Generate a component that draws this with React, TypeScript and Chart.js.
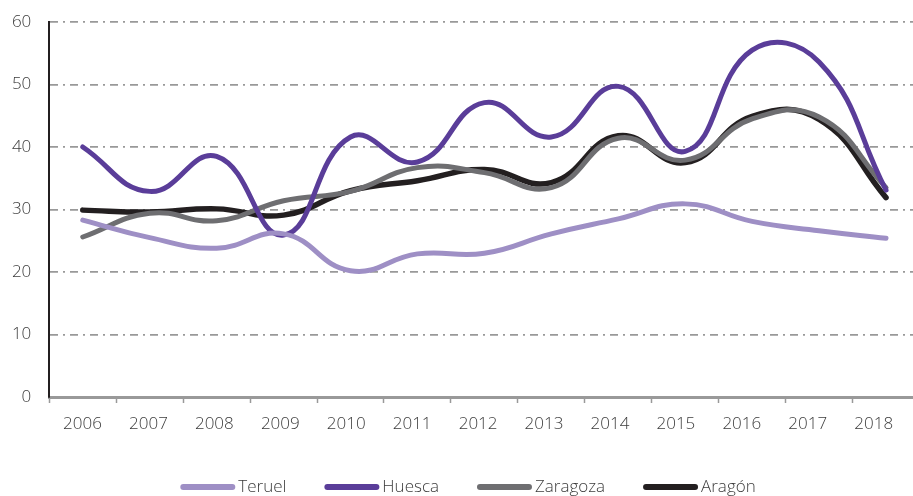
import React, { useEffect, useRef } from "react";
import { Chart, registerables } from "chart.js";

Chart.register(...registerables);

const years = ["2006", "2007", "2008", "2009", "2010", "2011", "2012", "2013", "2014", "2015", "2016", "2017", "2018"];
const teruel = [28.3, 25.5, 23.8, 26.1, 20.2, 22.9, 23.0, 26.1, 28.5, 30.9, 28.1, 26.6, 25.4];
const huesca = [40.0, 32.9, 38.5, 25.9, 41.6, 37.6, 47.1, 41.6, 49.7, 39.3, 55.5, 53.6, 33.1];
const zaragoza = [25.6, 29.4, 28.2, 31.4, 32.9, 36.7, 35.9, 33.5, 41.4, 37.9, 44.5, 44.8, 33.5];
const aragon = [29.9, 29.6, 30.1, 29.1, 33.0, 34.6, 36.4, 34.3, 41.8, 37.5, 44.9, 44.4, 31.9];
const yTicks = [0, 10, 20, 30, 40, 50, 60];

const FONT = '"Open Sans", "Noto Sans", sans-serif';
const TEXT = "#3c3c3c";
const WEIGHT = 300;

const legendPlugin = {
  id: "customLegend",
  afterDraw(chart: any) {
    const ctx = chart.ctx;
    ctx.save();
    ctx.font = `${WEIGHT} 17px ${FONT}`;
    const lineW = 55;
    const gapText = 3;
    const gapItem = 38;
    const items = chart.data.datasets.map((d: any) => ({
      label: d.label,
      color: d.borderColor,
      w: ctx.measureText(d.label).width,
    }));
    let total = 0;
    items.forEach((it: any, i: number) => {
      total += lineW + gapText + it.w + (i < items.length - 1 ? gapItem : 0);
    });
    let x = chart.width / 2 - total / 2;
    const y = 487;
    items.forEach((it: any) => {
      ctx.strokeStyle = it.color;
      ctx.lineWidth = 6;
      ctx.lineCap = "round";
      ctx.beginPath();
      ctx.moveTo(x + 3, y);
      ctx.lineTo(x + lineW - 3, y);
      ctx.stroke();
      ctx.fillStyle = TEXT;
      ctx.textBaseline = "middle";
      ctx.textAlign = "left";
      ctx.fillText(it.label, x + lineW + gapText, y);
      x += lineW + gapText + it.w + gapItem;
    });
    ctx.restore();
  },
};

export default function App() {
  const ref = useRef<HTMLCanvasElement | null>(null);
  useEffect(() => {
    if (!ref.current) return;
    const mk = (label: string, data: number[], color: string, w: number) => ({
      label,
      data,
      borderColor: color,
      backgroundColor: color,
      borderWidth: w,
      pointRadius: 0,
      pointHoverRadius: 0,
      tension: 0.45,
      fill: false,
      borderCapStyle: "round" as const,
      borderJoinStyle: "round" as const,
    });
    const chart = new Chart(ref.current, {
      type: "line",
      data: {
        labels: years,
        datasets: [
          mk("Teruel", teruel, "#9e8fc5", 5),
          mk("Huesca", huesca, "#5a3d99", 5),
          mk("Zaragoza", zaragoza, "#6e6e71", 5),
          mk("Aragón", aragon, "#231f20", 5.5),
        ],
      },
      options: {
        animation: false,
        responsive: false,
        events: [],
        layout: { padding: { top: 22, right: 16.5, bottom: 0, left: 0 } },
        plugins: { legend: { display: false }, tooltip: { enabled: false } },
        scales: {
          x: {
            type: "category",
            offset: true,
            position: "bottom",
            weight: 0,
            grid: {
              display: true,
              offset: true,
              drawOnChartArea: false,
              drawTicks: true,
              tickLength: 6,
              tickColor: "#999999",
              tickWidth: 1.5,
              color: "#999999",
            },
            border: { display: true, color: "#999999", width: 3 },
            ticks: { display: false },
            afterFit: (s: any) => {
              s.height = 6;
            },
          },
          x2: {
            type: "linear",
            position: "bottom",
            weight: 1,
            min: -0.5036,
            max: 12.695,
            grid: { display: false },
            border: { display: false },
            afterBuildTicks: (s: any) => {
              s.ticks = years.map((_, i) => ({ value: i }));
            },
            ticks: {
              autoSkip: false,
              maxRotation: 0,
              padding: 3,
              color: TEXT,
              font: { family: FONT, size: 17, weight: WEIGHT },
              callback: (v: any) => years[Math.round(Number(v))] ?? "",
            },
            afterFit: (s: any) => {
              s.height = 93;
            },
          },
          y: {
            min: 0,
            max: 60,
            afterBuildTicks: (s: any) => {
              s.ticks = yTicks.map((v) => ({ value: v }));
            },
            grid: {
              color: "#999999",
              lineWidth: 1.75,
              drawTicks: true,
              tickLength: 18,
              tickColor: "rgba(0,0,0,0)",
            },
            border: { display: true, color: "#231f20", width: 2, dash: [8, 5, 2, 5] },
            ticks: {
              padding: 0,
              color: TEXT,
              font: { family: FONT, size: 17, weight: WEIGHT },
            },
            afterFit: (s: any) => {
              s.width = 49.3;
            },
          },
        },
      },
      plugins: [legendPlugin],
    });
    return () => chart.destroy();
  }, []);
  return (
    <div style={{ position: "absolute", left: 0, top: 0, width: 913, height: 496, overflow: "hidden", background: "#fff" }}>
      <canvas ref={ref} width={936} height={496} style={{ width: 936, height: 496, display: "block" }} />
    </div>
  );
}
